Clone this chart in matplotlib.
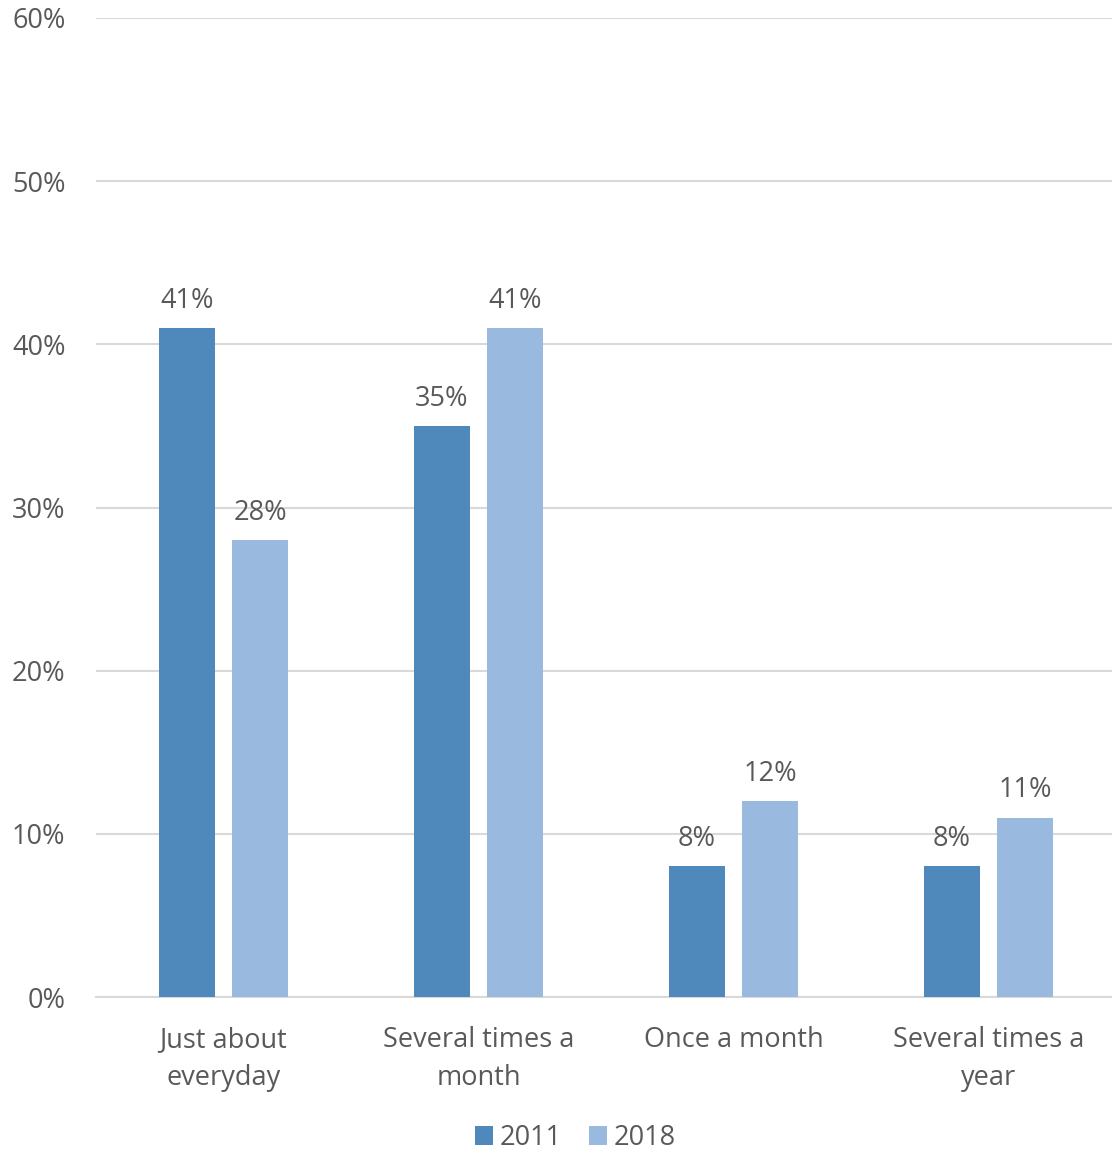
import numpy as np
import matplotlib
matplotlib.use("Agg")
import matplotlib.pyplot as plt
from matplotlib.ticker import PercentFormatter

categories = ["Just about\neveryday", "Several times a\nmonth", "Once a month", "Several times a\nyear"]
series_names = ["2011", "2018"]
values_2011 = [41, 35, 8, 8]
values_2018 = [28, 41, 12, 11]

colors = ["#4f88bb", "#99b9de"]
text_color = "#595959"
fs = 19.5

plt.rcParams["font.family"] = ["Open Sans", "DejaVu Sans"]

fig = plt.figure(figsize=(11.12, 11.55), dpi=100)
ax = fig.add_axes([96 / 1112, 1 - 997 / 1155, 1020 / 1112, 979 / 1155])

x = np.arange(len(categories))
width = 0.222
offset = 0.143
for vals, name, col, off in [(values_2011, series_names[0], colors[0], -offset),
                             (values_2018, series_names[1], colors[1], offset)]:
    bars = ax.bar(x + off, vals, width, color=col, label=name, zorder=3)
    for b, v in zip(bars, vals):
        ax.annotate(f"{v}%", (b.get_x() + b.get_width() / 2, v), xytext=(0, 9.5),
                    textcoords="offset points", ha="center", va="bottom",
                    fontsize=fs, color=text_color)

ax.set_xlim(-0.5, len(categories) - 0.5)
ax.set_ylim(0, 60)
ax.set_yticks(range(0, 61, 10))
ax.yaxis.set_major_formatter(PercentFormatter(decimals=0))
ax.grid(axis="y", color="#d9d9d9", linewidth=1.5, zorder=0)
for s in ["top", "right", "left"]:
    ax.spines[s].set_visible(False)
ax.spines["bottom"].set_color("#d9d9d9")
ax.spines["bottom"].set_linewidth(1.5)
ax.set_xticks(x)
ax.set_xticklabels(categories, linespacing=1.45)
ax.tick_params(axis="both", length=0, labelsize=fs, colors=text_color)
ax.tick_params(axis="y", pad=22)
ax.tick_params(axis="x", pad=21)

leg = ax.legend(loc="center", bbox_to_anchor=(0.47, -0.144), ncol=2, frameon=False,
                fontsize=fs, handlelength=0.65, handleheight=0.65, handletextpad=0.25,
                columnspacing=1.0, borderpad=0)
for t in leg.get_texts():
    t.set_color(text_color)

fig.savefig("out.png", dpi=100)
